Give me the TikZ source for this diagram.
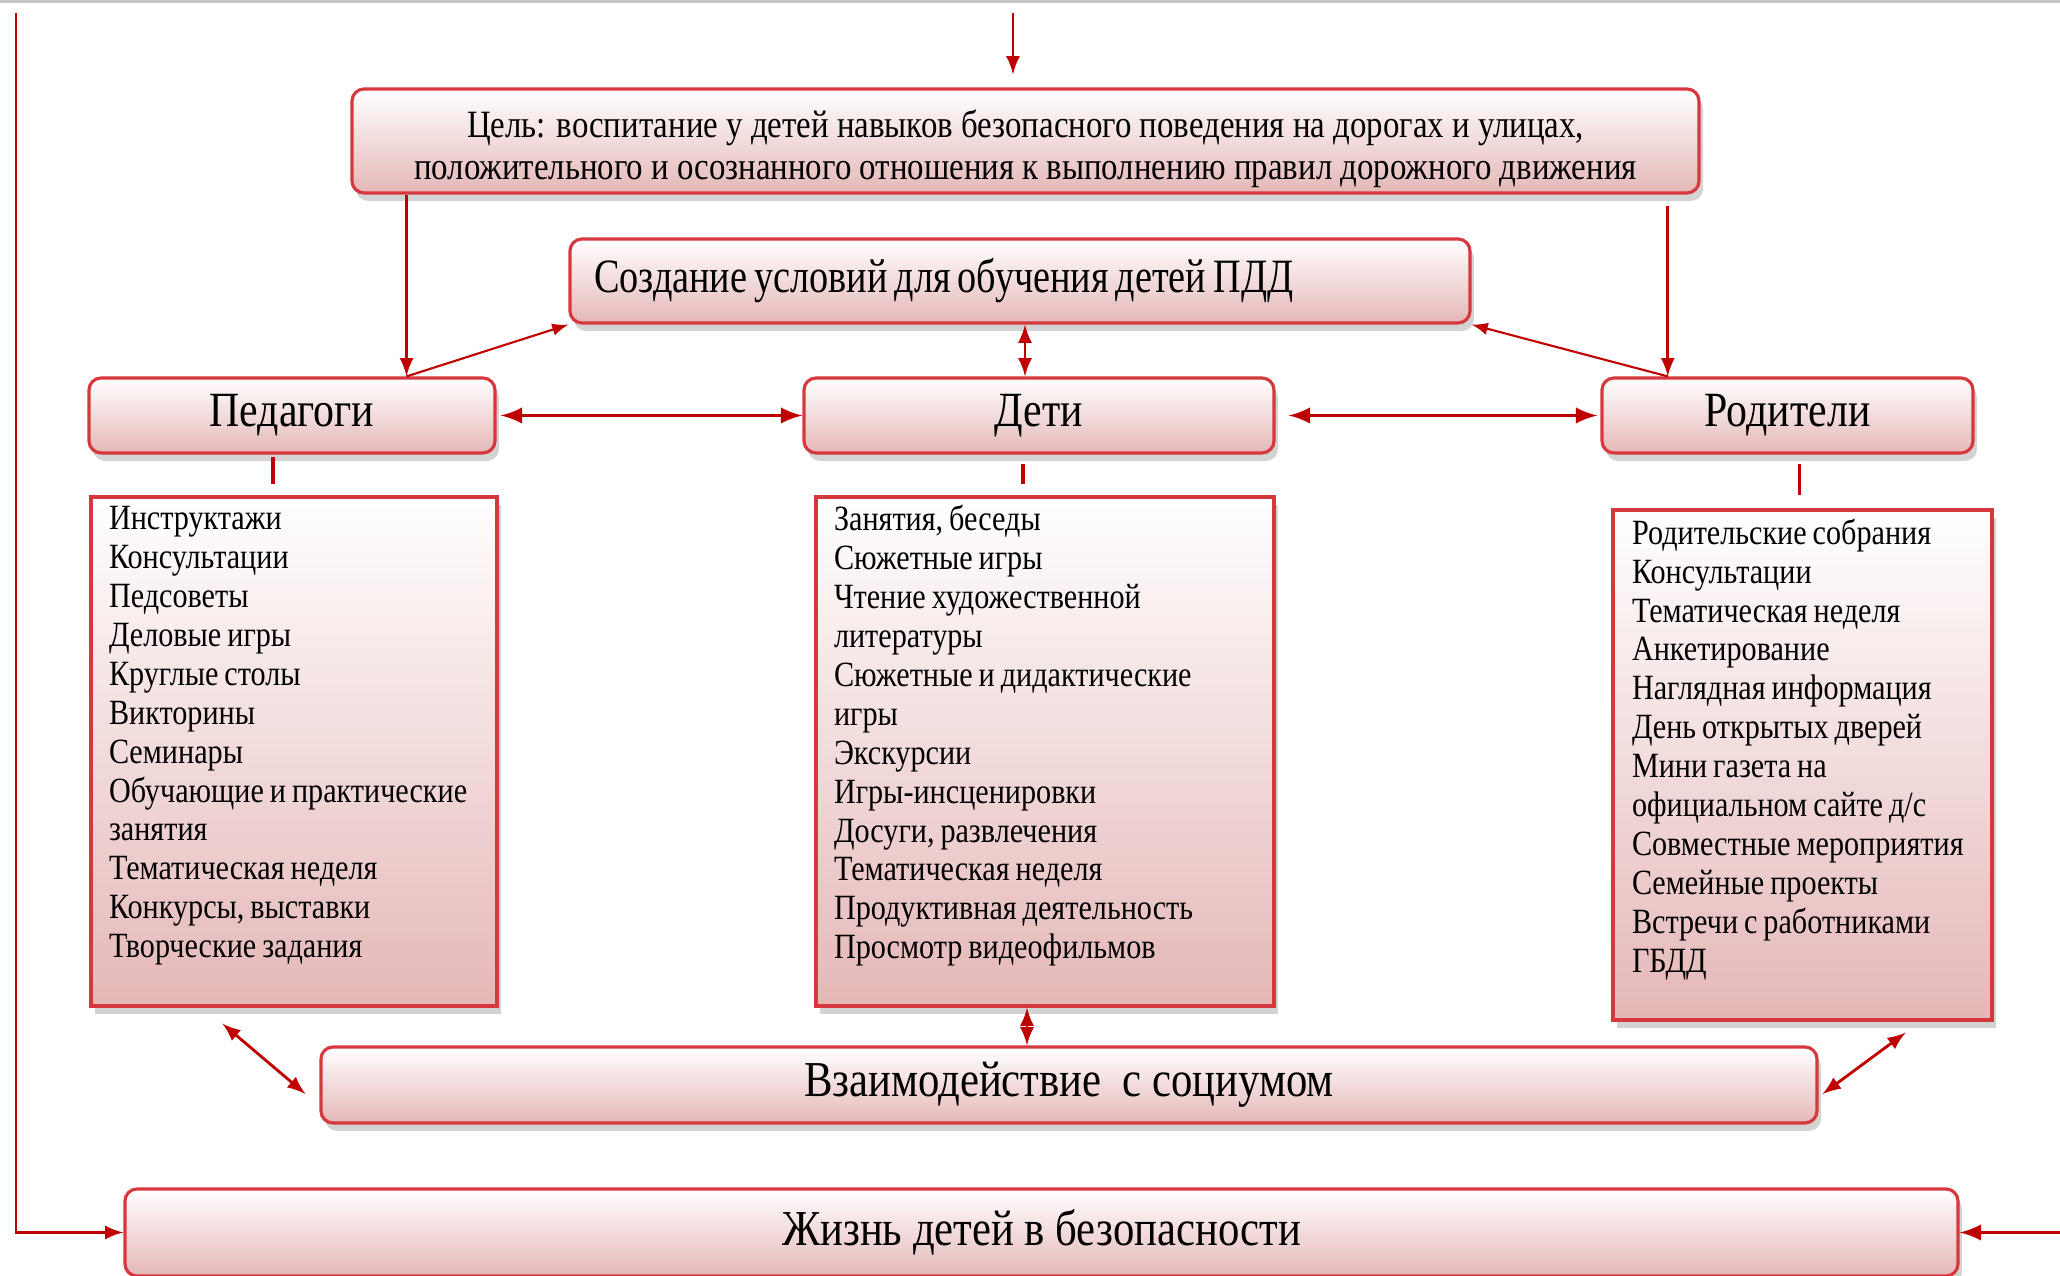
\documentclass[tikz,border=0pt]{standalone}
\usepackage{fontspec}
\setmainfont[FakeStretch=0.85]{Liberation Serif}
\newfontfamily\tighterfont[FakeStretch=0.8]{Liberation Serif}
\usepackage{tikz}
\usetikzlibrary{arrows,positioning,calc,shadows}
\definecolor{boxred}{RGB}{214,56,62}
\definecolor{arrred}{RGB}{192,0,0}
\definecolor{boxpink}{RGB}{229,183,183}
\tikzstyle{block}=[draw=boxred,line width=0.9pt,rounded corners=1.2mm,top color=white,bottom color=boxpink,drop shadow={shadow xshift=0.4mm,shadow yshift=-0.8mm,opacity=0.35},inner sep=0pt]
\tikzstyle{listbox}=[block,rounded corners=0pt,align=left,inner xsep=1.8mm,minimum height=5.09cm,font=\fontsize{10.1}{11.07}\selectfont,execute at begin node={\spaceskip=1.7pt plus 0.5pt\relax}]
\tikzstyle{who}=[block,minimum height=0.75cm,font=\fontsize{14}{16}\selectfont]
\tikzstyle{link}=[arrred,line width=0.8pt,-latex]
\tikzstyle{dlink}=[link,latex-latex]
\tikzstyle{tick}=[arrred,line width=0.9pt]

\begin{document}
\begin{tikzpicture}
\lineskiplimit=-6pt\relax
\useasboundingbox (0,0) rectangle (20.6,12.76);
\draw[gray!45,line width=1.2pt] (0,12.75) -- (20.6,12.75);

\node[block,minimum width=13.47cm,minimum height=1.04cm,align=center,font=\fontsize{11}{12}\selectfont] (goal) at (10.255,11.35)
  {\rule{0pt}{12.5pt}Цель: воспитание у детей навыков безопасного поведения на дорогах и улицах,\\положительного и осознанного отношения к выполнению правил дорожного движения};
\node[block,text width=8.52cm,inner xsep=2.4mm,minimum height=0.84cm,align=left,font=\tighterfont\fontsize{13.6}{16}\selectfont,execute at begin node={\spaceskip=2pt plus 0.3pt\relax}] (create) at (10.20,9.95)
  {Создание условий для обучения детей ПДД};

\node[who,minimum width=4.06cm] (ped) at (2.92,8.605) {Педагоги};
\node[who,minimum width=4.70cm] (kids) at (10.39,8.605) {Дети};
\node[who,minimum width=3.71cm] (par) at (17.875,8.605) {Родители};

\node[listbox,text width=3.70cm] (pedlist) at (2.94,5.245)
  {Инструктажи\\Консультации\\Педсоветы\\Деловые игры\\Круглые столы\\Викторины\\Семинары\\Обучающие и практические\\занятия\\Тематическая неделя\\Конкурсы, выставки\\Творческие задания\\\mbox{}};
\node[listbox,text width=4.22cm] (kidlist) at (10.45,5.245)
  {Занятия, беседы\\Сюжетные игры\\Чтение художественной\\литературы\\Сюжетные и дидактические\\игры\\Экскурсии\\Игры-инсценировки\\Досуги, развлечения\\Тематическая неделя\\Продуктивная деятельность\\Просмотр видеофильмов\\\mbox{}};
\node[listbox,text width=3.41cm,inner xsep=1.9mm,minimum height=5.10cm] (parlist) at (18.025,5.11)
  {Родительские собрания\\Консультации\\Тематическая неделя\\Анкетирование\\Наглядная информация\\День открытых дверей\\Мини газета на\\официальном сайте д/с\\Совместные мероприятия\\Семейные проекты\\Встречи с работниками\\ГБДД\\\mbox{}};

\node[block,minimum width=14.96cm,minimum height=0.76cm,font=\fontsize{14.3}{16}\selectfont] (social) at (10.69,1.91)
  {Взаимодействие\ \ с социумом};
\node[block,minimum width=18.33cm,minimum height=0.87cm,font=\fontsize{14.3}{16}\selectfont] (life) at (10.415,0.435)
  {Жизнь детей в безопасности};

% arrows
\coordinate (topin) at (10.13,12.63);
\coordinate (loopin) at (0.16,12.63);
\coordinate (rightin) at (20.6,0.4);
\coordinate (pedin) at ($(ped.north west)!0.78!(ped.north east)$);
\coordinate (parin) at ($(par.north west)!0.18!(par.north east)$);

\draw[link,shorten >=1.3mm] (topin) -- (topin |- goal.north);
\draw[link] (pedin |- goal.south) -- (pedin);
\draw[link,shorten <=1.1mm] (parin |- goal.south) -- (parin);
\draw[link,line width=0.6pt] (pedin) -- (create.south west);
\draw[link,line width=0.6pt] (parin) -- (create.south east);
\draw[dlink] ([xshift=0.5mm]create.south) -- ([xshift=0.5mm]create.south |- kids.north);
\draw[dlink,line width=1.1pt,shorten <=0.4mm] (ped) -- (kids);
\draw[dlink,line width=1.1pt,shorten <=1.3mm,shorten >=0.3mm] (kids) -- (par);

\draw[tick,shorten <=0.2mm,shorten >=1.1mm] ([xshift=-1.9mm]ped.south) -- ([xshift=-1.9mm]ped.south |- pedlist.north);
\draw[tick,shorten <=0.9mm,shorten >=1.1mm] ([xshift=-1.6mm]kids.south) -- ([xshift=-1.6mm]kids.south |- kidlist.north);
\draw[tick,shorten <=0.9mm,shorten >=1.3mm] ([xshift=1.2mm]par.south) -- ([xshift=1.2mm]par.south |- parlist.north);

\draw[dlink] ($(pedlist.south west)!0.325!(pedlist.south east)+(0,-0.16)$) -- ([xshift=-1.4mm,yshift=-0.9mm]social.west);
\draw[dlink] ([xshift=-1.8mm]kidlist.south) -- ([xshift=-1.8mm]kidlist.south |- social.north);
\draw[dlink] ($(parlist.south west)!0.77!(parlist.south east)+(0,-0.11)$) -- ([xshift=0.4mm,yshift=-0.9mm]social.east);

\draw[link] (loopin) |- (life.west);
\draw[link,line width=1.1pt] (rightin |- life.east) -- (life.east);
\end{tikzpicture}
\end{document}
